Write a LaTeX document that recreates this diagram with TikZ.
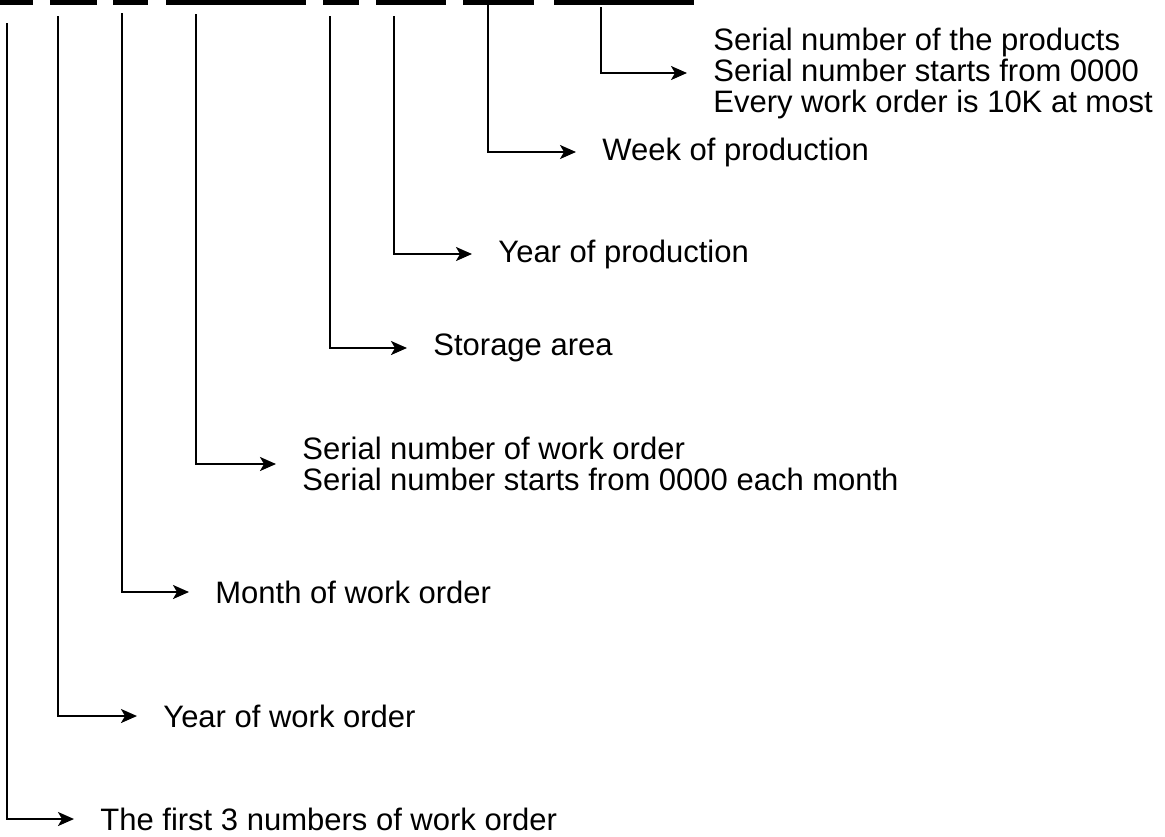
\documentclass[tikz,border=0pt]{standalone}
\usepackage{fontspec}
\setmainfont{Liberation Sans}
\usepackage{tikz}
\usetikzlibrary{arrows.meta,positioning}
\tikzset{
every picture/.style={line join=miter},
code bar/.style={fill=black,draw=none},
code stem/.style={
  draw=black,
  line width=1pt,
  -{Stealth[length=8pt,width=7pt,inset=2pt]},
  shorten >=13pt
},
code label/.style={
  anchor=west,
  inner sep=0pt,
  align=left,
  font=\fontsize{15.5}{15.5}\selectfont
}
}

\begin{document}
\begin{tikzpicture}[x=0.5pt,y=-0.5pt]
\useasboundingbox (0,0) rectangle (1165,836);
% digit groups of the code
\foreach \a/\b in {0/33,50/97,113/148,166/306,323/359,376/446,463/534,554/694}
  \fill[code bar] (\a,0) rectangle (\b,5);
% tops of the stems
\coordinate (top1) at (7,23);
\coordinate (top2) at (58,16);
\coordinate (top3) at (122,13);
\coordinate (top4) at (196,14);
\coordinate (top5) at (330,16);
\coordinate (top6) at (394,16);
\coordinate (top7) at (488,5);
\coordinate (top8) at (601,7);
% meanings
\node[code label] (first) at (100,819) {The first 3 numbers of work order};
\node[code label] (woyear) at (163,716) {Year of work order};
\node[code label] (womonth) at (215,592) {Month of work order};
\node[code label] (woserial) at (302,464) {Serial number of work order\\Serial number starts from 0000 each month};
\node[code label] (storage) at (433,348) {Storage area};
\node[code label] (pyear) at (498,254) {Year of production};
\node[code label] (pweek) at (602,152) {Week of production};
\node[code label] (pserial) at (713,73) {Serial number of the products\\Serial number starts from 0000\\Every work order is 10K at most};
\draw[code stem] (top1) |- (first.west);
\draw[code stem] (top2) |- (woyear.west);
\draw[code stem] (top3) |- (womonth.west);
\draw[code stem] (top4) |- (woserial.west);
\draw[code stem] (top5) |- (storage.west);
\draw[code stem] (top6) |- (pyear.west);
\draw[code stem] (top7) |- (pweek.west);
\draw[code stem] (top8) |- (pserial.west);
\end{tikzpicture}
\end{document}
